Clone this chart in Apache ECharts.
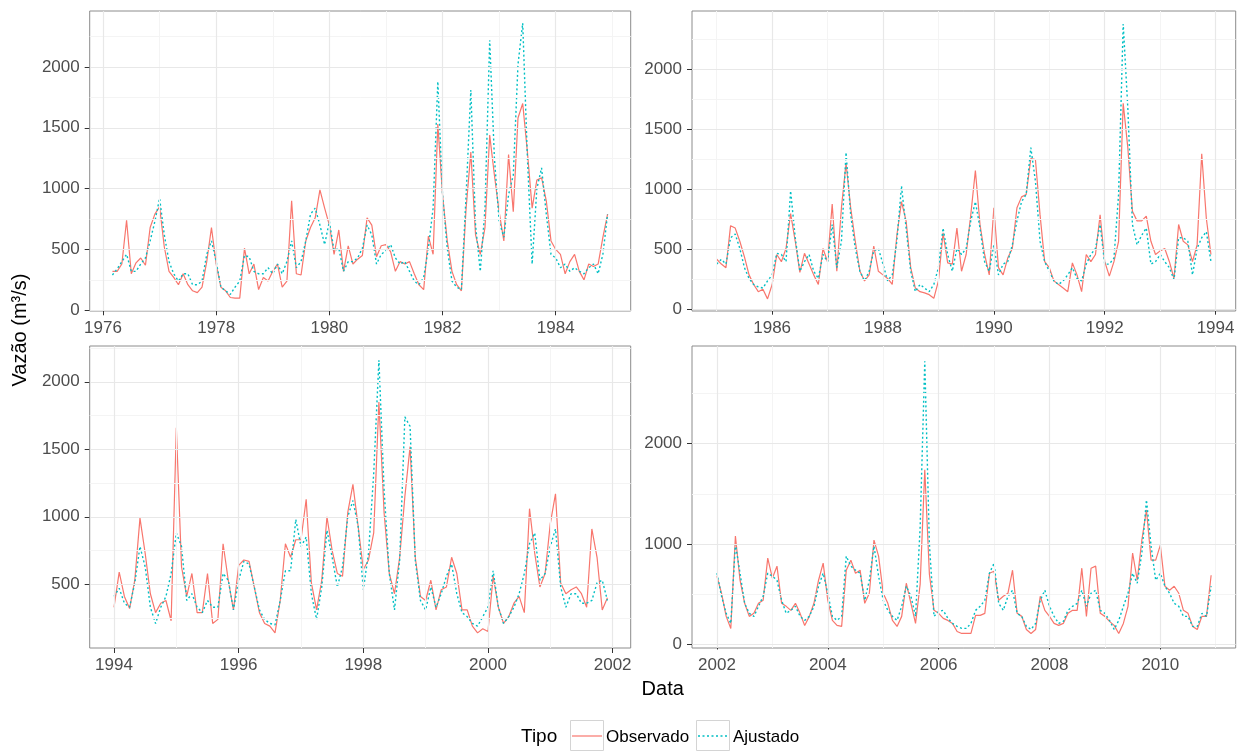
<!DOCTYPE html>
<html>
<head>
<meta charset="utf-8">
<script src="https://cdn.jsdelivr.net/npm/echarts@6.0.0/dist/echarts.min.js"></script>
<style>
html,body{margin:0;padding:0;background:#fff;}
#chart{width:1242px;height:755px;}
</style>
</head>
<body>
<div id="chart"></div>
<script>
// ---------- DATA ----------
const seriesNames = ['Observado', 'Ajustado'];

const start1 = [1976, 3];
const obs1 = [320,320,380,740,300,390,430,370,680,790,
 850,520,320,270,210,300,210,160,145,190,
 400,680,380,190,160,105,100,100,510,300,
 380,170,270,240,320,380,190,240,900,300,
 290,570,680,760,990,840,700,460,660,320,
 530,380,420,450,760,700,440,530,540,480,
 320,400,380,400,300,210,170,610,460,1530,
 950,570,320,210,160,840,1300,620,460,680,
 1440,1110,810,570,1280,810,1580,1700,1300,840,
 1070,1090,900,570,500,460,300,400,460,320,
 250,380,360,380,600,790];
const adj1 = [290,340,400,460,320,320,380,430,570,730,
 920,620,400,300,240,300,300,210,210,240,
 460,570,400,190,160,130,190,240,450,440,
 320,300,300,350,300,380,300,400,570,350,
 400,570,790,840,700,540,730,490,510,320,
 400,400,430,510,700,620,380,460,490,540,
 430,380,400,320,240,210,270,510,840,1880,
 950,510,240,190,170,950,1810,700,320,840,
 2220,1250,730,600,950,1110,2020,2360,1250,380,
 1000,1170,790,460,430,350,380,320,350,320,
 300,350,380,300,460,790];

const start2 = [1985, 1];
const obs2 = [420,380,350,700,680,570,440,290,210,150,
 170,90,210,460,400,510,800,570,310,470,
 380,290,210,510,400,880,320,850,1220,850,
 570,320,240,290,530,320,290,260,210,620,
 900,740,350,180,150,140,125,95,240,640,
 390,380,680,320,460,790,1160,710,460,290,
 850,350,290,430,510,850,940,960,1260,1250,
 790,400,350,240,210,180,150,390,290,150,
 460,400,460,790,400,280,400,570,1720,1350,
 820,740,740,780,570,460,490,510,400,260,
 710,570,540,400,540,1300,760,460];
const adj2 = [380,420,380,600,630,510,350,260,210,190,
 180,240,290,470,460,400,990,600,320,400,
 460,320,260,460,400,710,350,570,1310,790,
 510,320,240,320,490,510,380,240,290,570,
 1030,680,320,150,210,180,150,210,350,680,
 460,320,510,460,510,740,900,680,400,320,
 540,290,380,400,540,740,900,960,1350,1070,
 570,400,320,240,210,240,290,350,260,240,
 380,460,510,710,380,380,430,960,2380,1680,
 710,540,620,680,380,400,460,400,350,250,
 600,600,570,290,510,600,650,400];

const start3 = [1994, 1];
const obs3 = [330,590,410,320,530,990,730,430,290,360,
 380,230,1660,630,410,580,290,290,580,210,
 240,800,530,310,640,680,670,480,290,210,
 190,140,380,800,700,830,830,1130,510,310,
 530,1000,750,580,560,1030,1240,930,610,680,
 880,1850,1030,580,430,700,1150,1520,700,410,
 380,530,310,460,480,700,580,310,310,190,
 140,170,150,560,330,210,260,360,410,290,
 1060,730,480,580,950,1170,510,430,460,480,
 430,330,910,700,310,400];
const adj3 = [410,470,360,330,510,780,630,330,210,330,
 410,580,880,780,380,430,330,290,380,330,
 330,580,530,310,530,670,650,480,310,240,
 210,200,380,600,600,980,780,850,430,240,
 480,900,700,480,630,1000,1120,930,460,730,
 1320,2160,1200,580,310,680,1740,1670,680,380,
 310,480,330,430,560,650,430,290,260,210,
 190,260,330,600,330,210,260,330,430,580,
 800,880,530,580,780,910,480,330,430,430,
 360,360,380,510,530,380];

const start4 = [2002, 1];
const obs4 = [680,510,280,160,1080,640,410,280,310,410,
 440,860,660,780,410,380,340,410,310,190,
 280,410,640,810,440,240,190,180,740,840,
 710,740,410,510,1040,880,510,410,240,180,
 280,610,410,210,600,1740,700,340,310,260,
 240,210,130,110,110,110,290,290,310,710,
 730,440,480,510,740,310,280,150,110,150,
 480,340,280,210,190,210,310,340,340,760,
 280,760,780,310,280,230,190,110,210,380,
 910,640,1040,1340,840,840,990,580,540,580,
 510,340,310,180,150,280,280,690];
const adj4 = [710,480,310,210,1000,710,410,310,280,380,
 480,710,680,640,440,310,340,380,280,240,
 280,380,580,710,510,280,240,280,880,780,
 740,710,440,640,980,680,440,340,280,240,
 380,580,480,280,1170,2820,1000,280,330,340,
 260,210,180,160,160,210,340,380,440,710,
 810,410,340,480,540,310,280,180,150,210,
 440,540,380,280,210,230,340,380,410,540,
 380,510,540,340,310,240,150,240,380,510,
 710,610,910,1440,980,640,710,580,510,410,
 380,280,280,180,180,310,280,580];

// tick labels (major) and minor grid breaks
const xTicks1 = [1976, 1978, 1980, 1982, 1984];
const xTicks2 = [1986, 1988, 1990, 1992, 1994];
const xTicks3 = [1994, 1996, 1998, 2000, 2002];
const xTicks4 = [2002, 2004, 2006, 2008, 2010];
const xMinor1 = [1977, 1979, 1981, 1983, 1985];
const xMinor2 = [1985, 1987, 1989, 1991, 1993];
const xMinor3 = [1995, 1997, 1999, 2001];
const xMinor4 = [2003, 2005, 2007, 2009, 2011];
const yTicks1 = [0, 500, 1000, 1500, 2000];
const yTicks2 = [0, 500, 1000, 1500, 2000];
const yTicks3 = [500, 1000, 1500, 2000];
const yTicks4 = [0, 1000, 2000];
const yMinor1 = [250, 750, 1250, 1750, 2250];
const yMinor2 = [250, 750, 1250, 1750, 2250];
const yMinor3 = [250, 750, 1250, 1750, 2250];
const yMinor4 = [500, 1500, 2500];

const xTitle = 'Data';
const yTitle = 'Vazão (m³/s)';
const legendTitle = 'Tipo';

// ---------- BUILD ----------
function toPairs(start, vals) {
  return vals.map((v, i) => [start[0] + (start[1] - 1 + i) / 12, v]);
}

const panels = [
  {start: start1, obs: obs1, adj: adj1, xt: xTicks1, xm: xMinor1, yt: yTicks1, ym: yMinor1,
   xr: [1975.765, 1985.325], yr: [-6, 2460], grid: {left: 89.7, top: 11, width: 541, height: 300}},
  {start: start2, obs: obs2, adj: adj2, xt: xTicks2, xm: xMinor2, yt: yTicks2, ym: yMinor2,
   xr: [1984.554, 1994.363], yr: [-11, 2489], grid: {left: 692, top: 11, width: 543.7, height: 300}},
  {start: start3, obs: obs3, adj: adj3, xt: xTicks3, xm: xMinor3, yt: yTicks3, ym: yMinor3,
   xr: [1993.61, 2002.29], yr: [28, 2265], grid: {left: 89.7, top: 346, width: 541, height: 302}},
  {start: start4, obs: obs4, adj: adj4, xt: xTicks4, xm: xMinor4, yt: yTicks4, ym: yMinor4,
   xr: [2001.55, 2011.36], yr: [-35, 2973], grid: {left: 692, top: 346, width: 543.7, height: 302}}
];

const FONT = '"Liberation Sans", Arial, Helvetica, sans-serif';
const RED = '#F8766D', CYAN = '#00BFC4';
const MAJOR = '#e8e8e8', MINOR = '#f4f4f4';

const grid = [], xAxis = [], yAxis = [], series = [];
panels.forEach((p, i) => {
  grid.push(Object.assign({show: true, borderColor: '#8c8c8c', borderWidth: 1, backgroundColor: 'transparent'}, p.grid));
  xAxis.push({
    type: 'value', gridIndex: i, min: p.xr[0], max: p.xr[1],
    axisLine: {show: false},
    axisTick: {show: true, customValues: p.xt, length: 5, lineStyle: {color: '#333', width: 1}},
    axisLabel: {customValues: p.xt, color: '#4d4d4d', fontSize: 17, fontFamily: FONT, margin: 9,
                formatter: v => String(Math.round(v))},
    splitLine: {show: false}
  });
  yAxis.push({
    type: 'value', gridIndex: i, min: p.yr[0], max: p.yr[1],
    axisLine: {show: false},
    axisTick: {show: true, customValues: p.yt, length: 5, lineStyle: {color: '#333', width: 1}},
    axisLabel: {customValues: p.yt, color: '#4d4d4d', fontSize: 17, fontFamily: FONT, margin: 10,
                formatter: v => String(Math.round(v))},
    splitLine: {show: false}
  });
  const mk = (arr, key, color, w) => arr.map(v => ({[key]: v, lineStyle: {color: color, width: w, type: 'solid'}}));
  series.push({
    type: 'line', xAxisIndex: i, yAxisIndex: i, data: [], z: 1, silent: true, animation: false,
    markLine: {
      silent: true, symbol: ['none', 'none'], label: {show: false}, animation: false,
      emphasis: {disabled: true},
      data: [].concat(mk(p.xm, 'xAxis', MINOR, 1), mk(p.ym, 'yAxis', MINOR, 1),
                      mk(p.xt, 'xAxis', MAJOR, 1.2), mk(p.yt, 'yAxis', MAJOR, 1.2))
    }
  });
  series.push({
    name: seriesNames[0], type: 'line', xAxisIndex: i, yAxisIndex: i, z: 3,
    data: toPairs(p.start, p.obs), showSymbol: false, symbol: 'none', animation: false,
    lineStyle: {color: RED, width: 1.2}, itemStyle: {color: RED}
  });
  series.push({
    name: seriesNames[1], type: 'line', xAxisIndex: i, yAxisIndex: i, z: 4,
    data: toPairs(p.start, p.adj), showSymbol: false, symbol: 'none', animation: false,
    lineStyle: {color: CYAN, width: 1.4, type: [2, 2.5]}, itemStyle: {color: CYAN}
  });
});

const graphic = [
  {type: 'text', x: 20, y: 330, rotation: Math.PI / 2,
   style: {text: yTitle, font: '20px ' + FONT, fill: '#000', align: 'center', verticalAlign: 'middle'}},
  {type: 'text', x: 662.7, y: 689,
   style: {text: xTitle, font: '20px ' + FONT, fill: '#000', align: 'center', verticalAlign: 'middle'}},
  {type: 'text', x: 521, y: 737,
   style: {text: legendTitle, font: '19px ' + FONT, fill: '#000', align: 'left', verticalAlign: 'middle'}},
  {type: 'rect', shape: {x: 570.5, y: 720.5, width: 33, height: 30},
   style: {fill: '#fff', stroke: '#d4d4d4', lineWidth: 1}},
  {type: 'line', shape: {x1: 572, y1: 736, x2: 602, y2: 736},
   style: {stroke: RED, lineWidth: 1.2}},
  {type: 'text', x: 606, y: 737,
   style: {text: seriesNames[0], font: '17px ' + FONT, fill: '#000', align: 'left', verticalAlign: 'middle'}},
  {type: 'rect', shape: {x: 696.5, y: 720.5, width: 33, height: 30},
   style: {fill: '#fff', stroke: '#d4d4d4', lineWidth: 1}},
  {type: 'line', shape: {x1: 698, y1: 736, x2: 728, y2: 736},
   style: {stroke: CYAN, lineWidth: 1.4, lineDash: [2, 2.5]}},
  {type: 'text', x: 733, y: 737,
   style: {text: seriesNames[1], font: '17px ' + FONT, fill: '#000', align: 'left', verticalAlign: 'middle'}}
];

const chart = echarts.init(document.getElementById('chart'), null, {renderer: 'canvas'});
chart.setOption({
  backgroundColor: '#fff',
  animation: false,
  grid: grid, xAxis: xAxis, yAxis: yAxis, series: series, graphic: graphic,
  textStyle: {fontFamily: FONT}
});
</script>
</body>
</html>
